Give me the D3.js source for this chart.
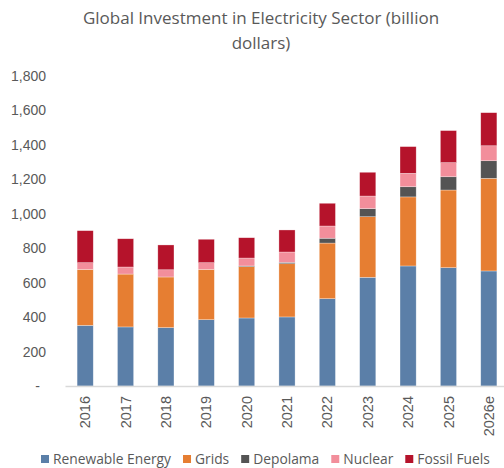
<!DOCTYPE html>
<html lang="en">
<head>
    <meta charset="UTF-8">
    <title>Global Investment in Electricity Sector</title>
    <script src="https://cdn.jsdelivr.net/npm/d3@7"></script>
    <style>
        body {
            margin: 0;
            background: #ffffff;
            font-family: 'Open Sans', 'Noto Sans', sans-serif;
            overflow: hidden;
        }
        .tick text { fill: #595959; }
    </style>
</head>
<body>
    <svg id="chart"></svg>
    <script>
        const svgWidth = 504;
        const svgHeight = 468;

        // data (billion dollars)
        const years = ["2016", "2017", "2018", "2019", "2020", "2021", "2022", "2023", "2024", "2025", "2026e"];
        const seriesNames = ["Renewable Energy", "Grids", "Depolama", "Nuclear", "Fossil Fuels"];
        const renewable = [352, 343, 339, 385, 395, 401, 507, 631, 697, 687, 668];
        const grids     = [325, 307, 294, 292, 298, 309, 323, 352, 401, 451, 538];
        const depolama  = [0, 0, 0, 0, 4, 8, 28, 47, 59, 77, 102];
        const nuclear   = [39, 41, 42, 39, 46, 60, 71, 73, 78, 82, 87];
        const fossil    = [186, 164, 144, 136, 118, 128, 132, 138, 155, 186, 192];
        const yTicks = [0, 200, 400, 600, 800, 1000, 1200, 1400, 1600, 1800];

        const colors = ["#5b7fa8", "#e67e32", "#545454", "#f28e9b", "#b5132b"];

        const rows = years.map((y, i) => ({
            year: y,
            "Renewable Energy": renewable[i],
            "Grids": grids[i],
            "Depolama": depolama[i],
            "Nuclear": nuclear[i],
            "Fossil Fuels": fossil[i]
        }));

        const svg = d3.select("#chart")
            .attr("width", svgWidth)
            .attr("height", svgHeight);

        // title
        const title = svg.append("text")
            .attr("text-anchor", "middle")
            .attr("fill", "#595959")
            .style("font-size", "17px");
        title.append("tspan").attr("x", 261).attr("y", 24).text("Global Investment in Electricity Sector (billion");
        title.append("tspan").attr("x", 261).attr("y", 49).text("dollars)");

        const x = d3.scaleBand()
            .domain(years)
            .range([65, 509])
            .paddingInner(0.6)
            .paddingOuter(0.3);

        const y = d3.scaleLinear()
            .domain([0, 1800])
            .range([386, 76]);

        const stack = d3.stack().keys(seriesNames);
        const stacked = stack(rows);

        svg.append("g")
            .selectAll("g")
            .data(stacked)
            .enter().append("g")
            .attr("fill", (d, i) => colors[i])
            .selectAll("rect")
            .data(d => d)
            .enter().append("rect")
            .attr("x", d => x(d.data.year))
            .attr("width", x.bandwidth())
            .attr("y", d => y(d[1]))
            .attr("height", d => y(d[0]) - y(d[1]))
            .attr("stroke", "#ffffff")
            .attr("stroke-opacity", 0.5)
            .attr("stroke-width", 0.6);

        // y axis (labels only)
        const yAxis = svg.append("g")
            .attr("transform", "translate(46,0)")
            .call(d3.axisLeft(y).tickValues(yTicks).tickSize(0).tickPadding(0)
                .tickFormat(d => d === 0 ? "-" : d3.format(",")(d)));
        yAxis.select(".domain").remove();
        yAxis.selectAll("text").style("font-size", "14px");
        yAxis.selectAll(".tick").filter(d => d === 0).select("text").attr("dx", "-6");

        // x axis
        const xAxis = svg.append("g")
            .attr("transform", "translate(0,386)")
            .call(d3.axisBottom(x).tickSize(0).tickPadding(0));
        xAxis.select(".domain")
            .attr("stroke", "#d9d9d9")
            .attr("stroke-width", 1.5);
        xAxis.selectAll("text")
            .style("font-size", "14.5px")
            .attr("transform", "rotate(-90)")
            .attr("text-anchor", "end")
            .attr("x", -10)
            .attr("y", 0)
            .attr("dy", "0.35em");

        // legend
        const legend = svg.append("g").attr("transform", "translate(41,459)");
        let lx = 0;
        seriesNames.forEach((name, i) => {
            const item = legend.append("g").attr("transform", `translate(${lx},0)`);
            item.append("rect")
                .attr("x", 0).attr("y", -4)
                .attr("width", 8).attr("height", 8)
                .attr("fill", colors[i]);
            const t = item.append("text")
                .attr("x", 12).attr("y", 0)
                .attr("dy", "0.35em")
                .attr("fill", "#595959")
                .style("font-size", "13.8px")
                .text(name);
            lx += 12 + t.node().getComputedTextLength() + 12;
        });
    </script>
</body>
</html>
